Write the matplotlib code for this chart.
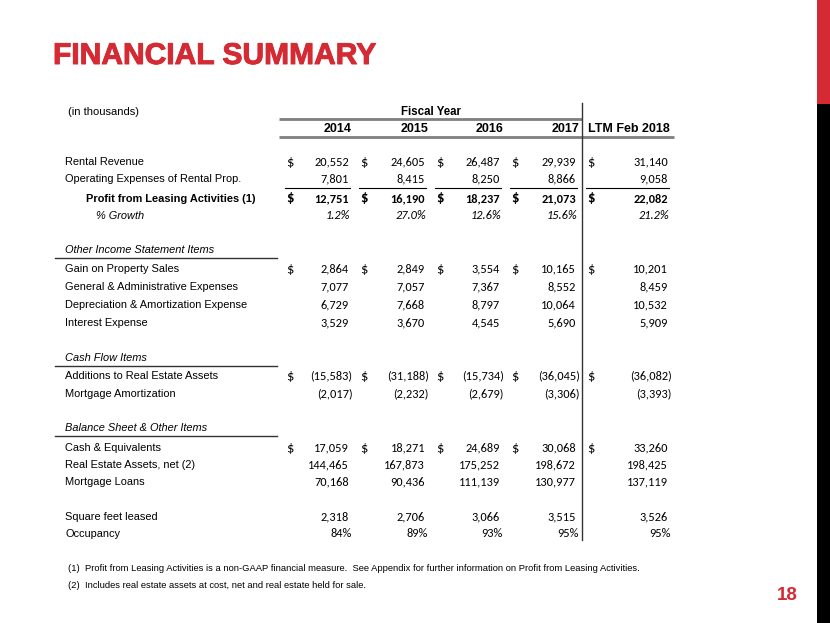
import matplotlib
matplotlib.use("Agg")
import matplotlib.pyplot as plt
from matplotlib import font_manager as fm
from matplotlib.patches import Rectangle
import matplotlib.patheffects as pe

# ---------------- data ----------------
year_labels = ["2014", "2015", "2016", "2017"]
ltm_label = "LTM Feb 2018"
rental_revenue = [20552, 24605, 26487, 29939, 31140]
operating_expenses = [7801, 8415, 8250, 8866, 9058]
profit_leasing = [12751, 16190, 18237, 21073, 22082]
growth_pct = [1.2, 27.0, 12.6, 15.6, 21.2]
gain_property_sales = [2864, 2849, 3554, 10165, 10201]
general_admin = [7077, 7057, 7367, 8552, 8459]
depreciation_amort = [6729, 7668, 8797, 10064, 10532]
interest_expense = [3529, 3670, 4545, 5690, 5909]
additions_real_estate = [-15583, -31188, -15734, -36045, -36082]
mortgage_amortization = [-2017, -2232, -2679, -3306, -3393]
cash_equivalents = [17059, 18271, 24689, 30068, 33260]
real_estate_assets = [144465, 167873, 175252, 198672, 198425]
mortgage_loans = [70168, 90436, 111139, 130977, 137119]
square_feet_leased = [2318, 2706, 3066, 3515, 3526]
occupancy_pct = [84, 89, 93, 95, 95]

footnotes = [
    "(1)  Profit from Leasing Activities is a non-GAAP financial measure.  See Appendix for further information on Profit from Leasing Activities.",
    "(2)  Includes real estate assets at cost, net and real estate held for sale.",
]

# ---------------- fonts ----------------
names = {f.name for f in fm.fontManager.ttflist}
SANS = "Liberation Sans" if "Liberation Sans" in names else "DejaVu Sans"
NARROW = "Liberation Sans Narrow" if "Liberation Sans Narrow" in names else SANS
NUM = "Carlito" if "Carlito" in names else ("Lato" if "Lato" in names else SANS)

RED = "#D42A33"

W, H = 830, 623
fig = plt.figure(figsize=(W / 100, H / 100), dpi=100)
ax = fig.add_axes([0, 0, 1, 1])
ax.set_xlim(0, W)
ax.set_ylim(H, 0)
ax.axis("off")

fig.canvas.draw()
renderer = fig.canvas.get_renderer()


def fit_text(x, y, s, width, **kw):
    t = ax.text(x, y, s, **kw)
    bb = t.get_window_extent(renderer)
    fs = t.get_fontsize()
    t.set_fontsize(fs * width / bb.width)
    return t


# right bar
ax.add_patch(Rectangle((817, 0), 13, 104, color=RED, lw=0))
ax.add_patch(Rectangle((817, 104), 13, H - 104, color="black", lw=0))

# title
fit_text(53, 64, "FINANCIAL SUMMARY", 323, family=SANS, fontweight="bold",
         color=RED, fontsize=20, va="baseline", ha="left",
         path_effects=[pe.withStroke(linewidth=0.7, foreground=RED)])

# page number
ax.text(787, 600, "18", family=SANS, fontweight="bold", color=RED,
        fontsize=13.5, ha="center", va="baseline")

# header
col_right = [349, 425, 500, 576, 668]
dollar_x = [286, 360, 436, 511, 587]
ax.text(68, 115, "(in thousands)", family=SANS, fontsize=8, va="baseline")
ax.text(431, 115, "Fiscal Year", family=SANS, fontsize=8.3, fontweight="bold",
        ha="center", va="baseline")
for i, yl in enumerate(year_labels):
    ax.text(col_right[i] + 3, 132, yl, family=SANS, fontsize=9, fontweight="bold",
            ha="right", va="baseline")
ax.text(588, 132, ltm_label, family=SANS, fontsize=9, fontweight="bold",
        ha="left", va="baseline")
ax.plot([279, 582], [119, 119], color="#7f7f7f", lw=2, solid_capstyle="butt")
ax.plot([279, 674], [136.5, 136.5], color="#7f7f7f", lw=2, solid_capstyle="butt")
ax.plot([582, 582], [103, 540], color="#333333", lw=1)


def fmt_num(v):
    return f"({abs(v):,})" if v < 0 else f"{v:,}"


NUM_FS = 8.9
BASE = 4  # baseline offset below row centre


def draw_row(y, label, values, kind="num", dollar=False, style="normal",
             label_x=65):
    weight = "bold" if style == "bold" else "normal"
    fstyle = "italic" if style == "italic" else "normal"
    ax.text(label_x, y + BASE, label, family=SANS, fontsize=7.9, fontweight=weight,
            fontstyle=fstyle, va="baseline")
    for i, v in enumerate(values):
        if kind == "pct1":
            s, off = f"{v:.1f}%", 1
        elif kind == "pct0":
            s, off = f"{v}%", 3
        else:
            s = fmt_num(v)
            off = 3.5 if v < 0 else 0
        ax.text(col_right[i] + off, y + BASE, s, family=NUM, fontsize=NUM_FS,
                fontweight=weight, fontstyle=fstyle, ha="right", va="baseline")
        if dollar:
            ax.text(dollar_x[i], y + BASE + 1, "$", family=NUM, fontsize=NUM_FS + 1.6,
                    fontweight=weight, ha="left", va="baseline")


def section(y, label):
    ax.text(65, y + BASE, label, family=SANS, fontsize=7.9, fontstyle="italic",
            va="baseline")
    ax.plot([55, 277], [y + 9, y + 9], color="#333333", lw=1)


draw_row(161, "Rental Revenue", rental_revenue, dollar=True)
draw_row(178, "Operating Expenses of Rental Prop.", operating_expenses)
for i in range(5):
    ax.plot([dollar_x[i] - 1, col_right[i] + 1], [187.5, 187.5], color="black", lw=0.8)
draw_row(198, "Profit from Leasing Activities (1)", profit_leasing, dollar=True,
         style="bold", label_x=86)
draw_row(215, "% Growth", growth_pct, kind="pct1", style="italic", label_x=96)

section(249, "Other Income Statement Items")
draw_row(268, "Gain on Property Sales", gain_property_sales, dollar=True)
draw_row(286, "General & Administrative Expenses", general_admin)
draw_row(304, "Depreciation & Amortization Expense", depreciation_amort)
draw_row(322, "Interest Expense", interest_expense)

section(357, "Cash Flow Items")
draw_row(375, "Additions to Real Estate Assets", additions_real_estate, dollar=True)
draw_row(393, "Mortgage Amortization", mortgage_amortization)

section(427, "Balance Sheet & Other Items")
draw_row(447, "Cash & Equivalents", cash_equivalents, dollar=True)
draw_row(464, "Real Estate Assets, net (2)", real_estate_assets)
draw_row(481, "Mortgage Loans", mortgage_loans)

draw_row(516, "Square feet leased", square_feet_leased)
draw_row(533, "Occupancy", occupancy_pct, kind="pct0")

t = fit_text(68, 571, footnotes[0], 570, family=NARROW, fontsize=7, va="baseline")
ax.text(68, 588, footnotes[1], family=NARROW, fontsize=t.get_fontsize(),
        va="baseline")

fig.savefig("out.png", dpi=100)
